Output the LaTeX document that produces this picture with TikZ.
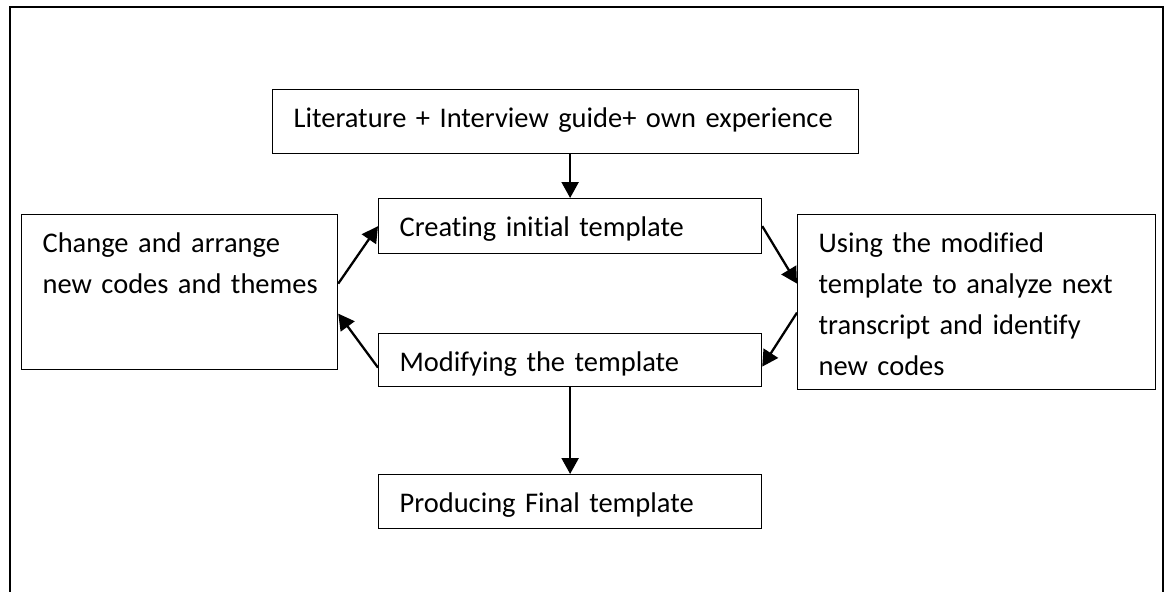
\documentclass[tikz,border=0pt]{standalone}
\usepackage{fontspec}
\setmainfont[Ligatures=NoCommon]{Carlito}
\usetikzlibrary{arrows.meta}

\tikzset{
  box/.style={draw, line width=0.7pt, anchor=north west, align=left,
    inner xsep=0.42cm, inner ysep=0pt, text height=0.76cm,
    font=\fontsize{16.2}{23.3}\selectfont},
  flow/.style={-{Triangle[length=0.32cm,width=0.34cm]}, line width=1.3pt}
}

\begin{document}
\begin{tikzpicture}
	\useasboundingbox (0,0) rectangle (23.3,11.82);
	\draw[line width=0.7pt] (0.2,-0.5) -- (0.2,11.68) -- (23.26,11.68) -- (23.26,-0.5);

	\node[box, text width=10.88cm, text depth=0.52cm] (lit) at (5.44,10.04) {Literature + Interview guide+ own experience};
	\node[box, text width=6.82cm, text depth=0.34cm] (cre) at (7.56,7.86) {Creating initial template};
	\node[box, text width=5.48cm, text depth=2.34cm] (chg) at (0.42,7.54) {Change and arrange\\\mbox{new codes and themes}};
	\node[box, text width=6.32cm, text depth=2.74cm] (use) at (15.94,7.54) {Using the modified\\template to analyze next\\transcript and identify\\new codes};
	\node[box, text width=6.82cm, text depth=0.30cm] (mod) at (7.56,5.16) {Modifying the template};
	\node[box, text width=6.82cm, text depth=0.32cm] (prod) at (7.56,2.34) {Producing Final template};

	\draw[flow] (lit.south -| cre.north) -- (cre.north);
	\draw[flow] ([yshift=0.17cm]chg.east) -- (cre.west);
	\draw[flow] (cre.east) -- ([yshift=0.37cm]use.west);
	\draw[flow] ([yshift=-0.21cm]use.west) -- ([yshift=-0.13cm]mod.east);
	\draw[flow] ([yshift=-0.15cm]mod.west) -- ([yshift=-0.43cm]chg.east);
	\draw[flow] (mod.south) -- (prod.north);
\end{tikzpicture}
\end{document}
